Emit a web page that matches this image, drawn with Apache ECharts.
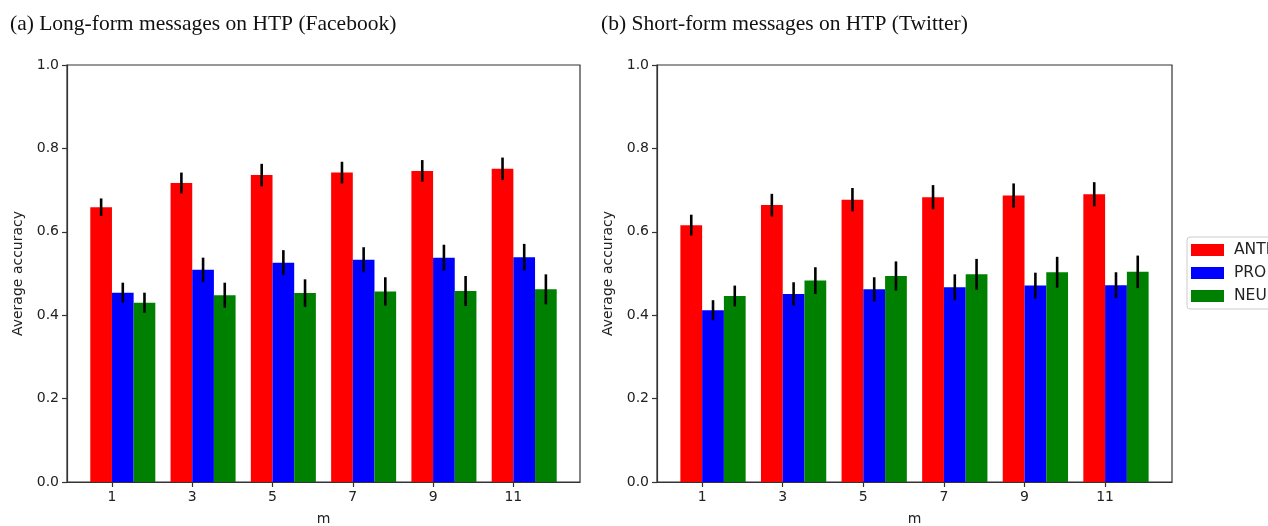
<!DOCTYPE html>
<html>
<head>
<meta charset="utf-8">
<script src="https://cdn.jsdelivr.net/npm/echarts@6/dist/echarts.min.js"></script>
<style>
html,body{margin:0;padding:0;background:#fff;}
#chart{width:1268px;height:526px;}
</style>
</head>
<body>
<div id="chart"></div>
<script>
// ---- data ----
const mValues = [1, 3, 5, 7, 9, 11];
const seriesNames = ['ANTI', 'PRO', 'NEU'];
const yTicks = [0.0, 0.2, 0.4, 0.6, 0.8, 1.0];

// (a) Facebook
const fbAnti = [0.659, 0.717, 0.736, 0.742, 0.746, 0.751];
const fbAntiErr = [0.021, 0.025, 0.027, 0.026, 0.026, 0.027];
const fbPro = [0.454, 0.509, 0.526, 0.533, 0.538, 0.539];
const fbProErr = [0.024, 0.029, 0.030, 0.030, 0.031, 0.032];
const fbNeu = [0.430, 0.448, 0.453, 0.457, 0.458, 0.462];
const fbNeuErr = [0.024, 0.030, 0.033, 0.034, 0.036, 0.036];

// (b) Twitter
const twAnti = [0.616, 0.664, 0.677, 0.683, 0.687, 0.690];
const twAntiErr = [0.025, 0.027, 0.028, 0.029, 0.029, 0.029];
const twPro = [0.412, 0.451, 0.462, 0.467, 0.471, 0.472];
const twProErr = [0.024, 0.028, 0.029, 0.031, 0.031, 0.031];
const twNeu = [0.446, 0.483, 0.494, 0.498, 0.503, 0.504];
const twNeuErr = [0.025, 0.032, 0.035, 0.037, 0.037, 0.039];

const titles = ['(a) Long-form messages on HTP (Facebook)', '(b) Short-form messages on HTP (Twitter)'];
const colors = ['#ff0000', '#0000ff', '#008000'];

// ---- build ----
const BW = 0.54; // bar width in m units
const offsets = [-1, 0, 1]; // bar left edge = m + offset*BW

function barSeries(name, idx, vals, errs, gi) {
  const data = mValues.map((m, i) => [m, vals[i], errs[i]]);
  return {
    type: 'custom', name: name, xAxisIndex: gi, yAxisIndex: gi,
    itemStyle: {color: colors[idx]},
    data: data,
    encode: {x: 0, y: 1},
    z: 2,
    renderItem: function (params, api) {
      const m = api.value(0), v = api.value(1), e = api.value(2);
      const x0 = m + offsets[idx] * BW, x1 = x0 + BW, xc = x0 + BW / 2;
      const p0 = api.coord([x0, v]);
      const p1 = api.coord([x1, 0]);
      const pTop = api.coord([xc, v + e]);
      const pBot = api.coord([xc, v - e]);
      return {
        type: 'group',
        children: [
          {type: 'rect', shape: {x: p0[0], y: p0[1], width: p1[0] - p0[0], height: p1[1] - p0[1]},
           style: {fill: colors[idx]}},
          {type: 'line', shape: {x1: pTop[0], y1: pTop[1], x2: pBot[0], y2: pBot[1]},
           style: {stroke: '#000', lineWidth: 2.6}, z2: 10}
        ]
      };
    }
  };
}

const tickFont = {fontFamily: 'DejaVu Sans', fontSize: 14, color: '#222'};

function xAxis(gi) {
  return {
    type: 'value', gridIndex: gi, min: -0.12, max: 12.66,
    name: 'm', nameLocation: 'middle', nameGap: 30,
    nameTextStyle: Object.assign({}, tickFont),
    axisLine: {show: true, onZero: false, lineStyle: {color: '#333', width: 1.2}},
    axisTick: {show: true, customValues: mValues, length: 5, lineStyle: {color: '#333', width: 1.2}},
    axisLabel: Object.assign({customValues: mValues, margin: 8, formatter: v => String(v)}, tickFont),
    splitLine: {show: false}
  };
}
function yAxis(gi) {
  return {
    type: 'value', gridIndex: gi, min: 0, max: 1, interval: 0.2,
    name: 'Average accuracy', nameLocation: 'middle', nameGap: 42,
    nameTextStyle: Object.assign({}, tickFont),
    axisLine: {show: true, onZero: false, lineStyle: {color: '#333', width: 1.2}},
    axisTick: {show: true, length: 5, lineStyle: {color: '#333', width: 1.2}},
    axisLabel: Object.assign({margin: 8, formatter: v => v.toFixed(1)}, tickFont),
    splitLine: {show: false}
  };
}

const titleStyle = {fontFamily: 'Liberation Serif', fontSize: 21.5, fontWeight: 'normal', color: '#111'};

const option = {
  backgroundColor: '#fff',
  animation: false,
  title: [
    {text: titles[0], left: 5, top: 8, textStyle: titleStyle},
    {text: titles[1], left: 596, top: 8, textStyle: titleStyle}
  ],
  legend: {
    data: seriesNames.map((n, i) => ({name: n, icon: 'rect', itemStyle: {color: colors[i]}})),
    orient: 'vertical', left: 1187, top: 237,
    itemWidth: 33, itemHeight: 12, itemGap: 7,
    padding: [5, 40, 5, 4],
    borderColor: '#cccccc', borderWidth: 1, borderRadius: 3,
    textStyle: {fontFamily: 'DejaVu Sans', fontSize: 15.5, lineHeight: 16, color: '#222', padding: [0, 0, 0, 5]},
    selectedMode: false
  },
  grid: [
    {left: 67, top: 65, width: 513, height: 417, show: true, borderColor: '#333', borderWidth: 1.2,
     containLabel: false, outerBoundsMode: 'none'},
    {left: 657, top: 65, width: 515, height: 417, show: true, borderColor: '#333', borderWidth: 1.2,
     containLabel: false, outerBoundsMode: 'none'}
  ],
  xAxis: [xAxis(0), xAxis(1)],
  yAxis: [yAxis(0), yAxis(1)],
  series: [
    barSeries(seriesNames[0], 0, fbAnti, fbAntiErr, 0),
    barSeries(seriesNames[1], 1, fbPro, fbProErr, 0),
    barSeries(seriesNames[2], 2, fbNeu, fbNeuErr, 0),
    barSeries(seriesNames[0], 0, twAnti, twAntiErr, 1),
    barSeries(seriesNames[1], 1, twPro, twProErr, 1),
    barSeries(seriesNames[2], 2, twNeu, twNeuErr, 1)
  ]
};

const chart = echarts.init(document.getElementById('chart'), null, {renderer: 'canvas'});
chart.setOption(option);
</script>
</body>
</html>
